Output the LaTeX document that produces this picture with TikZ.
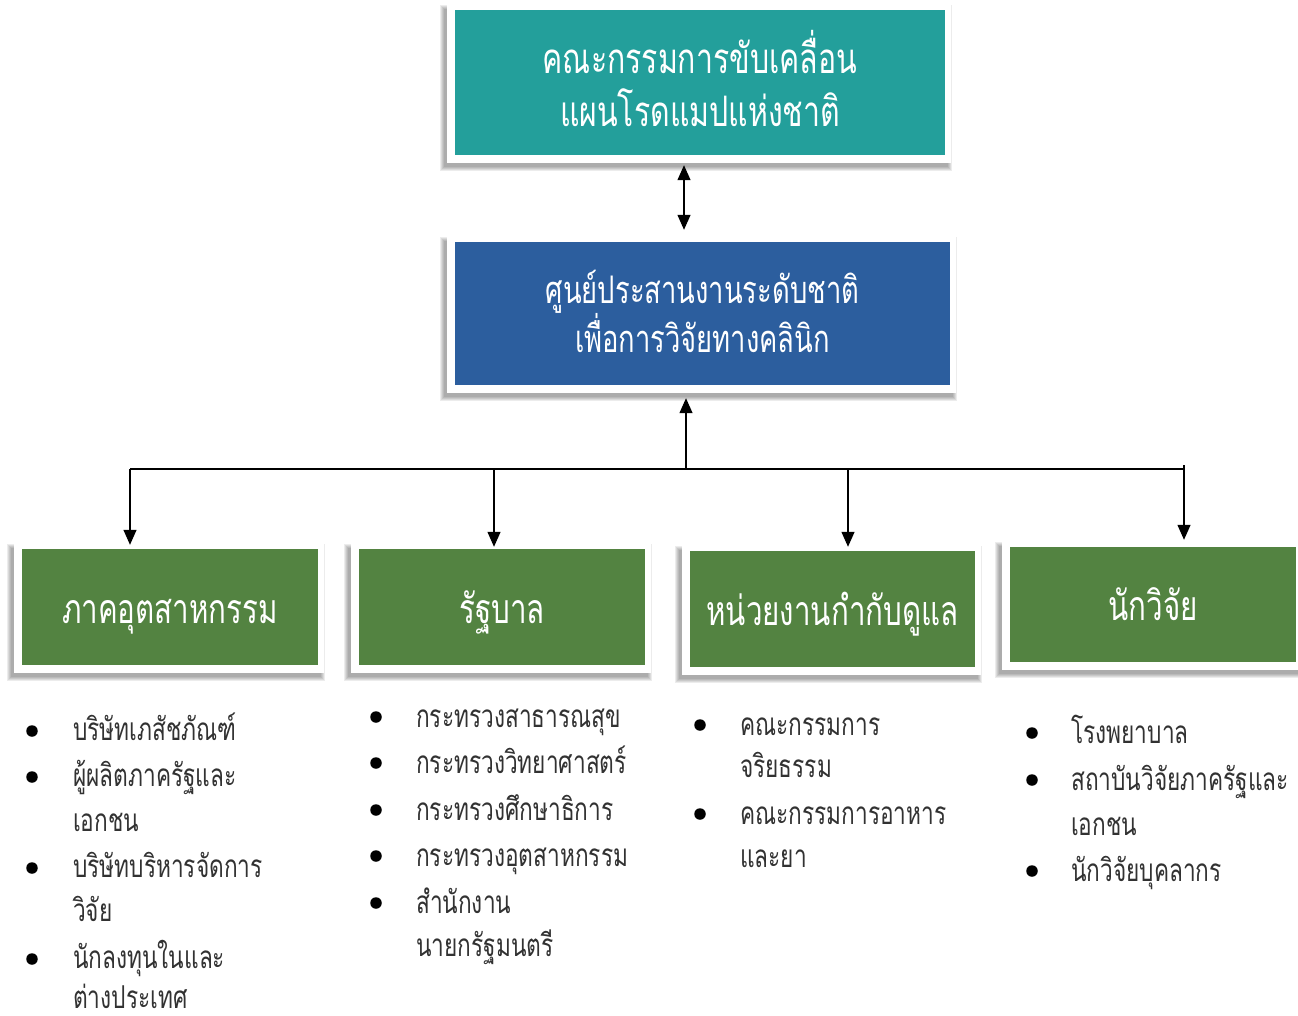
\documentclass[tikz,border=0pt]{standalone}
\usepackage{fontspec}
\newfontfamily\thaifont[Script=Thai,FakeStretch=0.72]{Loma}
\usetikzlibrary{arrows.meta,calc,backgrounds}
\definecolor{tealbox}{RGB}{35,159,155}
\definecolor{bluebox}{RGB}{44,94,158}
\definecolor{greenbox}{RGB}{83,131,65}
\definecolor{listgray}{RGB}{50,50,50}
\begin{document}
\begin{tikzpicture}[x=1pt,y=-1pt,
  box/.style={rectangle, inner sep=0pt, text=white, align=center},
  bigtext/.style={font=\thaifont\fontsize{42}{53}\selectfont, text depth=8pt},
  midtext/.style={font=\thaifont\fontsize{38}{49}\selectfont, text depth=4pt},
  grtext/.style={font=\thaifont\fontsize{41}{41}\selectfont, text height=40pt, text depth=8pt},
  arr/.style={-{Triangle[length=15pt,width=13pt]}, line width=1.3pt},
  dblarr/.style={{Triangle[length=15pt,width=13pt]}-{Triangle[length=15pt,width=13pt]}, line width=1.3pt},
  li/.style={anchor=base west, inner sep=0pt, text=listgray, font=\thaifont\fontsize{31.5}{31.5}\selectfont},
  dot/.style={circle, fill=black, inner sep=0pt, minimum size=11.5pt}]
\useasboundingbox (0,0) rectangle (1298,1016);

% main boxes
\node[box, bigtext, fill=tealbox, minimum width=490pt, minimum height=145pt] (top) at (700,82.5)
  {คณะกรรมการขับเคลื่อน\\แผนโรดแมปแห่งชาติ};
\node[box, midtext, fill=bluebox, minimum width=495pt, minimum height=143pt] (mid) at (702.5,313.5)
  {ศูนย์ประสานงานระดับชาติ\\เพื่อการวิจัยทางคลินิก};

% stakeholder boxes
\node[box, grtext, fill=greenbox, minimum width=296pt, minimum height=116pt] (g1) at (170,607) {ภาคอุตสาหกรรม};
\node[box, grtext, fill=greenbox, minimum width=286pt, minimum height=116pt] (g2) at (502,607) {รัฐบาล};
\node[box, grtext, fill=greenbox, minimum width=285pt, minimum height=116pt] (g3) at (832.5,609) {หน่วยงานกำกับดูแล};
\node[box, grtext, fill=greenbox, minimum width=286pt, minimum height=115pt] (g4) at (1153,604.5) {นักวิจัย};

% page, soft shadows and white frames behind the boxes
\begin{scope}[on background layer]
  \fill[white] (0,0) rectangle (1298,1016);
  \foreach \n in {top,mid,g1,g2,g3,g4}{
    \foreach \k in {0,...,4}{
      \fill[black,opacity=0.075] ($(\n.north west)+(-11-\k,-1-\k)$) rectangle ($(\n.south east)+(3+\k,12+\k)$);
    }
    \fill[white] ($(\n.north west)+(-8,-7)$) rectangle ($(\n.south east)+(6,8)$);
  }
\end{scope}

% connectors
\coordinate (ax) at (684,0);
\draw[dblarr] ($(top.south -| ax)+(0,10)$) -- ($(mid.north -| ax)+(0,-12)$);

\coordinate (busL) at (130,469);
\coordinate (busR) at (1185,469);
\coordinate (busM) at (686,469);
\coordinate (b2) at (494,469);
\coordinate (b3) at (848,469);
\coordinate (b4) at (1184,465);
\draw[line width=1.3pt] (busL) -- (busR);
\draw[arr] (busM) -- ($(mid.south -| busM)+(0,13)$);
\draw[arr] (busL) -- ($(g1.north -| busL)+(0,-4)$);
\draw[arr] (b2) -- ($(g2.north -| b2)+(0,-2)$);
\draw[arr] (b3) -- ($(g3.north -| b3)+(0,-4)$);
\draw[arr] (b4) -- ($(g4.north -| b4)+(0,-7)$);

% industry list
\node[dot] (d11) at (32,731) {};
\node[dot] (d12) at (32,777) {};
\node[dot] (d13) at (32,868) {};
\node[dot] (d14) at (32,959) {};
\node[li] (t11) at (73,740) {บริษัทเภสัชภัณฑ์};
\node[li] (t12) at (73,786) {ผู้ผลิตภาครัฐและ};
\node[li] (t12b) at (73,831) {เอกชน};
\node[li] (t13) at (73,877) {บริษัทบริหารจัดการ};
\node[li] (t13b) at (73,921) {วิจัย};
\node[li] (t14) at (73,968) {นักลงทุนในและ};
\node[li] (t14b) at (73,1008) {ต่างประเทศ};

% government list
\node[dot] (d21) at (376,717) {};
\node[dot] (d22) at (376,763) {};
\node[dot] (d23) at (376,810) {};
\node[dot] (d24) at (376,856) {};
\node[dot] (d25) at (376,903) {};
\node[li] (t21) at (416,727) {กระทรวงสาธารณสุข};
\node[li] (t22) at (416,773) {กระทรวงวิทยาศาสตร์};
\node[li] (t23) at (416,820) {กระทรวงศึกษาธิการ};
\node[li] (t24) at (416,866) {กระทรวงอุตสาหกรรม};
\node[li] (t25) at (416,913) {สำนักงาน};
\node[li] (t25b) at (416,956) {นายกรัฐมนตรี};

% regulator list
\node[dot] (d31) at (700,725) {};
\node[dot] (d32) at (700,814) {};
\node[li] (t31) at (740,735) {คณะกรรมการ};
\node[li] (t31b) at (740,777) {จริยธรรม};
\node[li] (t32) at (740,824) {คณะกรรมการอาหาร};
\node[li] (t32b) at (740,867) {และยา};

% researcher list
\node[dot] (d41) at (1032,733) {};
\node[dot] (d42) at (1032,780) {};
\node[dot] (d43) at (1032,871) {};
\node[li] (t41) at (1071,743) {โรงพยาบาล};
\node[li] (t42) at (1071,790) {สถาบันวิจัยภาครัฐและ};
\node[li] (t42b) at (1071,835) {เอกชน};
\node[li] (t43) at (1071,881) {นักวิจัยบุคลากร};
\end{tikzpicture}
\end{document}
